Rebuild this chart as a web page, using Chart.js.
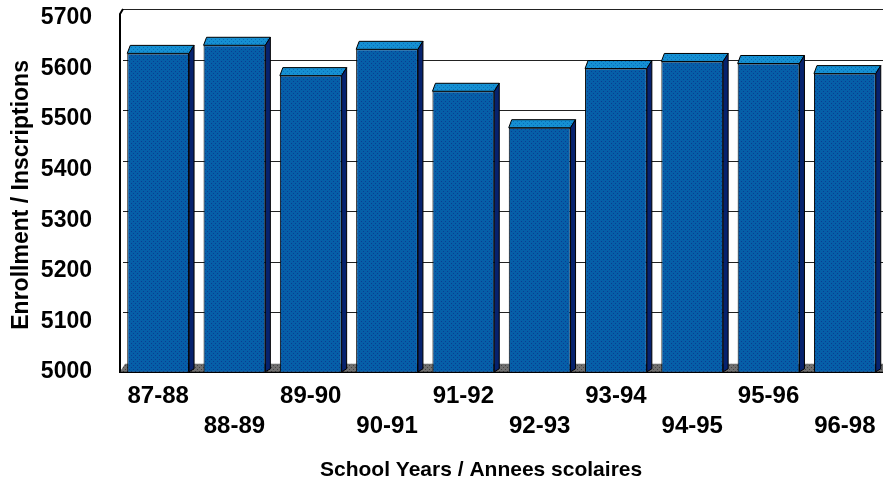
<!DOCTYPE html>
<html>
<head>
<meta charset="utf-8">
<script src="https://cdn.jsdelivr.net/npm/chart.js@4/dist/chart.umd.min.js"></script>
<style>
  html, body { margin: 0; padding: 0; background: #fff; }
  #wrap { width: 883px; height: 483px; }
</style>
</head>
<body>
<div id="wrap"><canvas id="enrolChart"></canvas></div>
<script>
// school years and enrollment
const years = ['87-88', '88-89', '89-90', '90-91', '91-92', '92-93', '93-94', '94-95', '95-96', '96-98'];
const enrollment = [5630, 5646, 5586, 5638, 5555, 5483, 5600, 5614, 5610, 5590];
const yMin = 5000;
const yMax = 5700;
const yStep = 100;

// stagger the labels on two rows like the original
const xLabels = years.map((y, i) => i % 2 ? ['', y] : [y, '']);

// dotted fill for the bar fronts
function dotPattern(base, dot) {
    const c = document.createElement('canvas');
    c.width = 4; c.height = 4;
    const g = c.getContext('2d');
    g.fillStyle = base;
    g.fillRect(0, 0, 4, 4);
    g.fillStyle = dot;
    g.fillRect(1, 1, 1, 1);
    g.fillRect(3, 3, 1, 1);
    return g.createPattern(c, 'repeat');
}

const DX = 5, DY = 8;

// back wall grid lines, floor, left wall edge, then the 3d faces of the bars
const wallPlugin = {
    id: 'wall',
    beforeDatasetsDraw(chart) {
        const { ctx, chartArea: a, scales } = chart;
        const ys = scales.y;
        ctx.save();
        ctx.strokeStyle = '#222';
        ctx.lineWidth = 1;
        for (let v = yMin + yStep; v <= yMax; v += yStep) {
            const y = Math.round(ys.getPixelForValue(v) - 9) + 0.5;
            ctx.beginPath();
            ctx.moveTo(a.left + 3, y);
            ctx.lineTo(a.right, y);
            ctx.stroke();
        }
        // floor
        ctx.fillStyle = dotPattern('#707070', '#404040');
        ctx.beginPath();
        ctx.moveTo(a.left, a.bottom);
        ctx.lineTo(a.left + DX, a.bottom - DY);
        ctx.lineTo(a.right, a.bottom - DY);
        ctx.lineTo(a.right, a.bottom);
        ctx.closePath();
        ctx.fill();
        ctx.strokeStyle = '#000';
        ctx.lineWidth = 2;
        ctx.beginPath();
        ctx.moveTo(a.left, a.bottom);
        ctx.lineTo(a.left, a.top - 4);
        ctx.lineTo(a.left + 3, a.top - 9);
        ctx.stroke();
        ctx.restore();
    },
    afterDatasetsDraw(chart) {
        const { ctx, chartArea: a } = chart;
        const meta = chart.getDatasetMeta(0);
        const topFill = dotPattern('#1590d2', '#0a6ab8');
        ctx.save();
        ctx.strokeStyle = '#000';
        ctx.lineWidth = 1;
        meta.data.forEach(bar => {
            const p = bar.getProps(['x', 'y', 'width'], true);
            const l = p.x - p.width / 2, r = p.x + p.width / 2;
            const base = a.bottom;
            // top face
            ctx.fillStyle = topFill;
            ctx.beginPath();
            ctx.moveTo(l, p.y);
            ctx.lineTo(l + DX - 2, p.y - DY);
            ctx.lineTo(r + DX, p.y - DY);
            ctx.lineTo(r, p.y);
            ctx.closePath();
            ctx.fill();
            ctx.stroke();
            // side face
            ctx.fillStyle = '#06226e';
            ctx.beginPath();
            ctx.moveTo(r, p.y);
            ctx.lineTo(r + DX, p.y - DY);
            ctx.lineTo(r + DX, base - 3);
            ctx.lineTo(r, base);
            ctx.closePath();
            ctx.fill();
            ctx.stroke();
        });
        ctx.restore();
    }
};

const ctx = document.getElementById('enrolChart').getContext('2d');
new Chart(ctx, {
    type: 'bar',
    data: {
        labels: xLabels,
        datasets: [{
            label: 'Enrollment',
            data: enrollment,
            backgroundColor: dotPattern('#065fa8', '#0a3c92'),
            borderColor: '#000',
            borderWidth: 1,
            borderSkipped: 'bottom',
            barPercentage: 0.81,
            categoryPercentage: 1
        }]
    },
    options: {
        responsive: true,
        maintainAspectRatio: false,
        animation: false,
        layout: {
            padding: { top: 18, right: 0, bottom: 0, left: 0 }
        },
        plugins: {
            legend: { display: false },
            tooltip: { enabled: false }
        },
        scales: {
            x: {
                grid: { display: false },
                border: { display: true, color: '#000', width: 2 },
                ticks: {
                    color: '#000',
                    autoSkip: false,
                    maxRotation: 0,
                    padding: 2,
                    font: { family: 'Liberation Sans, Arial, sans-serif', size: 24, weight: 'bold', lineHeight: 1.25 }
                },
                title: {
                    display: true,
                    // trailing spaces pull the centred title left like the original
                    text: 'School Years / Annees scolaires\u00a0\u00a0\u00a0\u00a0\u00a0\u00a0\u00a0',
                    color: '#000',
                    padding: { top: 14, bottom: 0 },
                    font: { family: 'Liberation Sans, Arial, sans-serif', size: 21, weight: 'bold' }
                }
            },
            y: {
                min: yMin,
                max: yMax,
                grid: { display: false },
                border: { display: false },
                afterFit(scale) {
                    scale.width = 120;
                    scale.paddingTop = 0;
                    scale.paddingBottom = 0;
                },
                ticks: {
                    stepSize: yStep,
                    color: '#000',
                    padding: 20,
                    callback: v => String(v),
                    font: { family: 'Liberation Sans, Arial, sans-serif', size: 23, weight: 'bold' }
                },
                title: {
                    display: true,
                    text: 'Enrollment / Inscriptions',
                    color: '#000',
                    padding: { top: 8, bottom: 14 },
                    font: { family: 'Liberation Sans, Arial, sans-serif', size: 23, weight: 'bold' }
                }
            }
        }
    },
    plugins: [wallPlugin]
});
</script>
</body>
</html>
